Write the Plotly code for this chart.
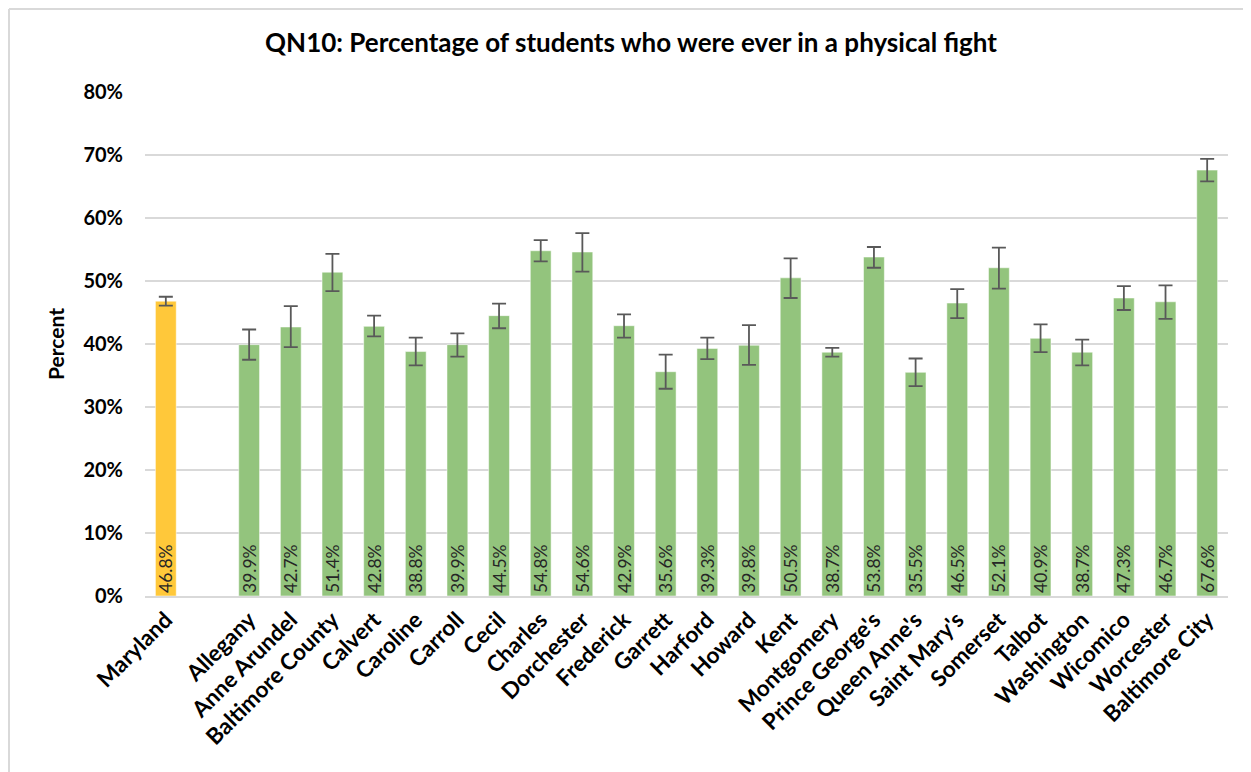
import plotly.graph_objects as go

categories = ["Maryland", " ", "Allegany", "Anne Arundel", "Baltimore County", "Calvert", "Caroline",
              "Carroll", "Cecil", "Charles", "Dorchester", "Frederick", "Garrett", "Harford",
              "Howard", "Kent", "Montgomery", "Prince George's", "Queen Anne's", "Saint Mary's",
              "Somerset", "Talbot", "Washington", "Wicomico", "Worcester", "Baltimore City"]
values = [46.8, None, 39.9, 42.7, 51.4, 42.8, 38.8, 39.9, 44.5, 54.8, 54.6, 42.9, 35.6, 39.3,
          39.8, 50.5, 38.7, 53.8, 35.5, 46.5, 52.1, 40.9, 38.7, 47.3, 46.7, 67.6]
upper = [47.5, None, 42.3, 46.0, 54.3, 44.5, 41.0, 41.7, 46.4, 56.5, 57.6, 44.7, 38.3, 41.0,
         43.0, 53.6, 39.4, 55.4, 37.7, 48.7, 55.3, 43.1, 40.7, 49.2, 49.3, 69.4]
lower = [46.1, None, 37.5, 39.5, 48.4, 41.2, 36.6, 38.0, 42.5, 53.1, 51.5, 41.0, 32.9, 37.6,
         36.7, 47.3, 38.0, 52.1, 33.3, 44.1, 48.8, 38.7, 36.6, 45.4, 44.0, 65.8]
yticks = [0, 10, 20, 30, 40, 50, 60, 70, 80]
yticklabels = ["0%", "10%", "20%", "30%", "40%", "50%", "60%", "70%", "80%"]

err_plus = [None if v is None else round(u - v, 2) for v, u in zip(values, upper)]
err_minus = [None if v is None else round(v - l, 2) for v, l in zip(values, lower)]
colors = ["#FFC83A" if c == "Maryland" else "#93C47D" for c in categories]
texts = ["" if v is None else f"{v:.1f}%" for v in values]

FONT = "Lato, 'Open Sans', sans-serif"

fig = go.Figure(go.Bar(
    x=categories, y=values,
    marker=dict(color=colors, line=dict(color="rgba(255,255,255,0.5)", width=1)),
    error_y=dict(type="data", symmetric=False, array=err_plus, arrayminus=err_minus,
                 color="#595959", thickness=1.8, width=7),
    text=texts, textposition="inside", insidetextanchor="start", textangle=-90,
    textfont=dict(size=17.5, color="#262626", family=FONT),
    cliponaxis=False,
))

# page body has an 8px margin, so the figure is sized to fill the rest of the window
W, H = 1243, 764
L, R, T, B = 137, 23, 84, 176
pw, ph = W - L - R, H - T - B

fig.update_layout(
    width=W, height=H,
    margin=dict(l=L, r=R, t=T, b=B),
    plot_bgcolor="white", paper_bgcolor="white",
    bargap=0.5,
    showlegend=False,
    uniformtext=dict(minsize=17, mode="show"),
    title=dict(text="<b>QN10: Percentage of students who were ever in a physical fight</b>",
               x=(623 - L) / pw, xref="paper", xanchor="center", y=1 - 35 / H, yanchor="middle",
               font=dict(size=26, color="#000000", family=FONT)),
    font=dict(family=FONT, color="#000000"),
    xaxis=dict(tickangle=-45, tickfont=dict(size=22.5, family=FONT, weight="bold"),
               showgrid=False, showline=True, linecolor="#D9D9D9", linewidth=1.5,
               ticks="", range=[-0.5, len(categories) - 0.5], automargin=False),
    yaxis=dict(range=[0, 80], tickmode="array", tickvals=yticks, ticktext=yticklabels,
               tickfont=dict(size=20, family=FONT, weight="bold"), ticklabelstandoff=21,
               showgrid=True, gridcolor="#D9D9D9", gridwidth=1.5, zeroline=False, automargin=False,
               ticks="", title=dict(text="<b>Percent</b>", font=dict(size=21, family=FONT), standoff=13)),
    shapes=[
        dict(type="line", xref="paper", yref="paper",
             x0=(1 - L) / pw, x1=(W - L) / pw, y0=(H - B - 1) / ph, y1=(H - B - 1) / ph,
             line=dict(color="#D9D9D9", width=2), layer="below"),
        dict(type="line", xref="paper", yref="paper",
             x0=(1 - L) / pw, x1=(1 - L) / pw, y0=-B / ph, y1=(H - B - 1) / ph,
             line=dict(color="#D9D9D9", width=2), layer="below"),
    ],
)

fig.write_html("out.html")
